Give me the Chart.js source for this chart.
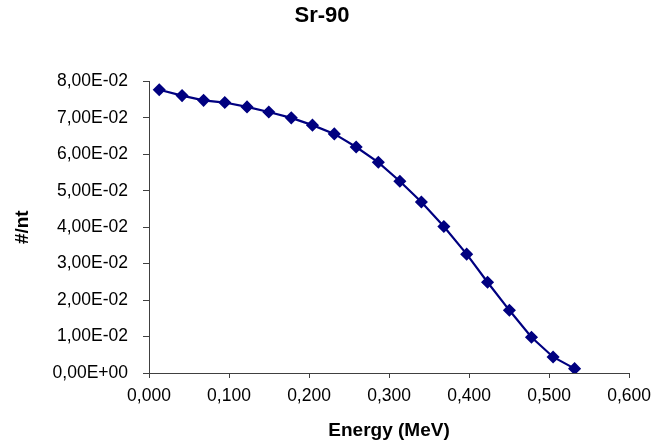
<!DOCTYPE html>
<html>
<head>
<meta charset="utf-8">
<script src="https://cdn.jsdelivr.net/npm/chart.js@4/dist/chart.umd.min.js"></script>
<style>
  html, body { margin: 0; padding: 0; background: #fff; }
  #wrap { width: 659px; height: 448px; }
</style>
</head>
<body>
<div id="wrap"><canvas id="c" width="659" height="448"></canvas></div>
<script>
const energy = [0.0128, 0.0413, 0.0682, 0.0947, 0.1225, 0.1497, 0.1778, 0.2043, 0.2316, 0.2589,
                0.2866, 0.3135, 0.3404, 0.3685, 0.3970, 0.4231, 0.4504, 0.4780, 0.5050, 0.5319];
const counts = [0.0777, 0.0761, 0.0748, 0.0742, 0.0730, 0.0716, 0.0700, 0.0680, 0.0656, 0.0620,
                0.0578, 0.0526, 0.0469, 0.0402, 0.0326, 0.0249, 0.0172, 0.0098, 0.0044, 0.0012];
const titleText = 'Sr-90';
const xTitle = 'Energy (MeV)';
const yTitle = '#/nt';

const points = energy.map((x, i) => ({ x: x, y: counts[i] }));

function fmtExp(v) {
  if (Math.abs(v) < 1e-12) return '0,00E+00';
  const s = v.toExponential(2);
  const parts = s.split('e');
  const mant = parts[0].replace('.', ',');
  let e = parseInt(parts[1], 10);
  const sign = e < 0 ? '-' : '+';
  e = Math.abs(e);
  return mant + 'E' + sign + (e < 10 ? '0' + e : '' + e);
}

const axisColor = '#404040';
const font = 'Liberation Sans, Arial, sans-serif';

new Chart(document.getElementById('c'), {
  type: 'line',
  data: {
    datasets: [{
      data: points,
      borderColor: '#000080',
      backgroundColor: '#000080',
      borderWidth: 2.2,
      pointStyle: 'rectRot',
      pointRadius: 5,
      pointHoverRadius: 5,
      pointBackgroundColor: '#000080',
      pointBorderColor: '#000080',
      tension: 0,
      fill: false
    }]
  },
  options: {
    responsive: false,
    animation: false,
    layout: { padding: { left: 11, right: 26, top: 0, bottom: 6 } },
    plugins: {
      legend: { display: false },
      tooltip: { enabled: false },
      title: {
        display: true,
        text: titleText,
        color: '#000',
        font: { family: font, size: 22, weight: 'bold' },
        padding: { top: 3, bottom: 52 }
      }
    },
    scales: {
      x: {
        type: 'linear',
        min: 0,
        max: 0.6,
        ticks: {
          stepSize: 0.1,
          color: '#000',
          font: { family: font, size: 17.5 },
          padding: 8,
          maxRotation: 0,
          callback: v => v.toFixed(3).replace('.', ',')
        },
        grid: { drawOnChartArea: false, drawTicks: true, tickLength: 5, color: axisColor },
        border: { color: axisColor, width: 1 },
        title: {
          display: true,
          text: xTitle,
          color: '#000',
          font: { family: font, size: 19, weight: 'bold' },
          padding: { top: 0, bottom: 0 }
        },
        afterFit: s => { s.height = 69; }
      },
      y: {
        type: 'linear',
        min: 0,
        max: 0.08,
        ticks: {
          stepSize: 0.01,
          color: '#000',
          font: { family: font, size: 17.5 },
          padding: 15,
          callback: v => fmtExp(v)
        },
        grid: { drawOnChartArea: false, drawTicks: true, tickLength: 6, color: axisColor },
        border: { color: axisColor, width: 1 },
        title: {
          display: true,
          text: yTitle,
          color: '#000',
          font: { family: font, size: 19, weight: 'bold' },
          padding: { top: 0, bottom: 0 }
        },
        afterFit: s => { s.width = 138; }
      }
    }
  }
});
</script>
</body>
</html>
